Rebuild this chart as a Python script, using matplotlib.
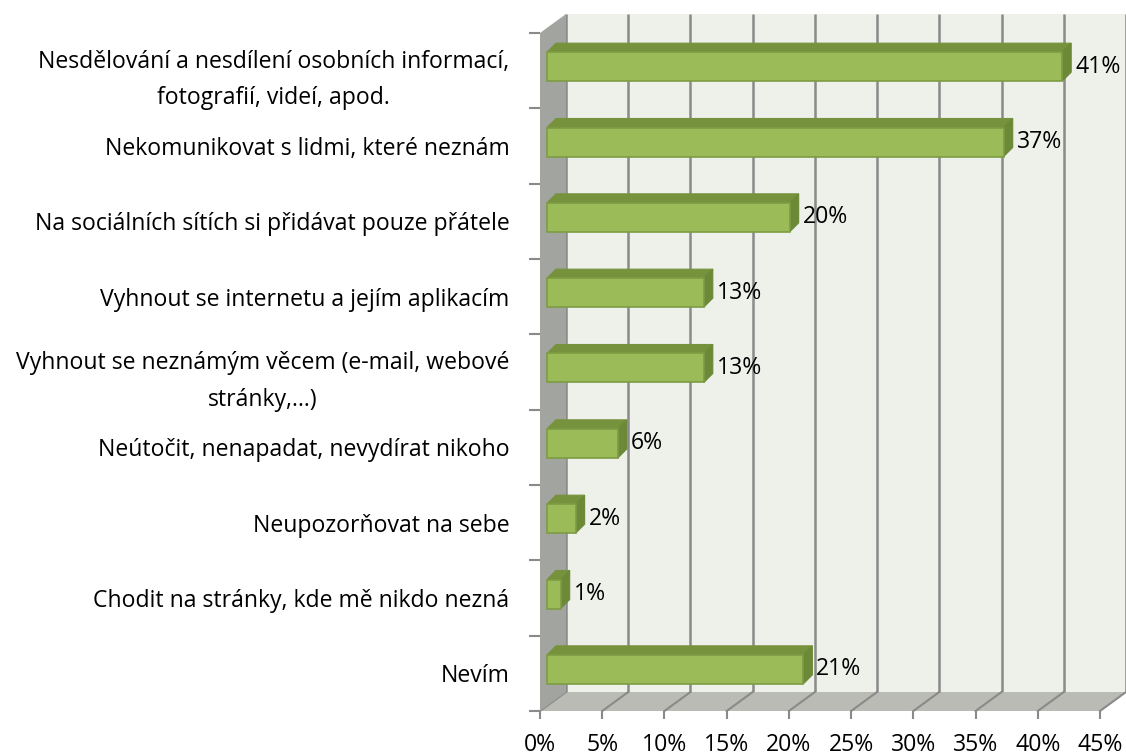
import matplotlib
matplotlib.use('Agg')
from matplotlib import pyplot as plt
from matplotlib.patches import Polygon, Rectangle

# survey answers (top to bottom) and their shares in %
categories = [
    'Nesdělování a nesdílení osobních informací,\nfotografií, videí, apod.',
    'Nekomunikovat s lidmi, které neznám',
    'Na sociálních sítích si přidávat pouze přátele',
    'Vyhnout se internetu a jejím aplikacím',
    'Vyhnout se neznámým věcem (e-mail, webové\nstránky,…)',
    'Neútočit, nenapadat, nevydírat nikoho',
    'Neupozorňovat na sebe',
    'Chodit na stránky, kde mě nikdo nezná',
    'Nevím',
]
values = [41.4, 36.7, 19.5, 12.6, 12.6, 5.7, 2.3, 1.1, 20.6]
value_labels = ['41%', '37%', '20%', '13%', '13%', '6%', '2%', '1%', '21%']
xticks = [0, 5, 10, 15, 20, 25, 30, 35, 40, 45]
xtick_labels = ['0%', '5%', '10%', '15%', '20%', '25%', '30%', '35%', '40%', '45%']

plt.rcParams['font.family'] = ['Open Sans', 'DejaVu Sans']
FS = 16.6

W, H = 1126, 755
fig = plt.figure(figsize=(W / 100, H / 100), dpi=100)
# axes box = front plane of the 3d chart
ax = fig.add_axes([540 / W, 1 - 711 / H, 560 / W, 678 / H])
XMAX = 45
n = len(categories)
ax.set_xlim(0, XMAX)
ax.set_ylim(n - 0.5, -0.5)

# pixel -> data helpers (dy positive = up on screen)
def dx_px(p):
    return p * XMAX / 560.0

def dy_px(p):
    return p * n / 678.0

WDX, WDY = dx_px(26), dy_px(19)     # depth of the walls
BOX, BOY = dx_px(7), dy_px(4)       # bar front face offset
BDX, BDY = dx_px(9), dy_px(9)       # bar depth
BH = dy_px(29)                      # bar thickness

top, bot = -0.5, n - 0.5
wall_back = '#eef0ea'
wall_side = '#a2a49f'
wall_floor = '#b9bbb4'
grid_c = '#8a8a8a'

# back wall
ax.add_patch(Rectangle((WDX, top - WDY), XMAX, n, facecolor=wall_back,
                       edgecolor='none', clip_on=False, zorder=0))
# gridlines on back wall and floor
for t in xticks:
    ax.plot([t + WDX, t + WDX], [top - WDY, bot - WDY], color=grid_c, lw=1.8,
            clip_on=False, zorder=1, solid_capstyle='butt')
# floor
ax.add_patch(Polygon([(0, bot), (XMAX, bot), (XMAX + WDX, bot - WDY), (WDX, bot - WDY)],
                     closed=True, facecolor=wall_floor, edgecolor='none',
                     clip_on=False, zorder=2))
for t in xticks:
    ax.plot([t, t + WDX], [bot, bot - WDY], color=grid_c, lw=1.5,
            clip_on=False, zorder=2.5)
# side wall
ax.add_patch(Polygon([(0, top), (0, bot), (WDX, bot - WDY), (WDX, top - WDY)],
                     closed=True, facecolor=wall_side, edgecolor='none',
                     clip_on=False, zorder=3))

# 3d bars
front_c = '#9bbb59'
top_c = '#76923c'
side_c = '#6b8936'
edge_c = '#7d9c44'
for i, v in enumerate(values):
    x0 = BOX
    x1 = BOX + v
    yt = i - BOY - BH / 2
    yb = i - BOY + BH / 2
    ax.add_patch(Polygon([(x0, yt), (x1, yt), (x1 + BDX, yt - BDY), (x0 + BDX, yt - BDY)],
                         closed=True, facecolor=top_c, edgecolor=top_c, lw=0.8,
                         clip_on=False, zorder=4))
    ax.add_patch(Polygon([(x1, yt), (x1, yb), (x1 + BDX, yb - BDY), (x1 + BDX, yt - BDY)],
                         closed=True, facecolor=side_c, edgecolor=side_c, lw=0.8,
                         clip_on=False, zorder=4))
    ax.add_patch(Rectangle((x0, yt), v, BH, facecolor=front_c, edgecolor=edge_c,
                           lw=1.2, clip_on=False, zorder=5))
    ax.text(x1 + BDX + dx_px(4), i - BOY, value_labels[i], fontsize=FS,
            va='center', ha='left', color='black', zorder=6)

for s in ax.spines.values():
    s.set_visible(False)
ax.patch.set_visible(False)

# x ticks
ax.set_xticks(xticks)
ax.set_xticklabels(xtick_labels, fontsize=FS)
ax.tick_params(axis='x', length=6, width=1.5, color=grid_c, pad=10)

# y: tick marks at slot borders, labels at slot centres
ax.set_yticks([k - 0.5 for k in range(n + 1)])
ax.set_yticklabels([])
ax.set_yticks(range(n), minor=True)
ax.set_yticklabels(categories, minor=True, fontsize=FS)
ax.tick_params(axis='y', which='major', length=8, width=1.5, color=grid_c)
ax.tick_params(axis='y', which='minor', length=0, pad=22)
for lab in ax.get_yticklabels(minor=True):
    lab.set_multialignment('center')
    lab.set_linespacing(1.7)

fig.savefig('out.png', dpi=100)
